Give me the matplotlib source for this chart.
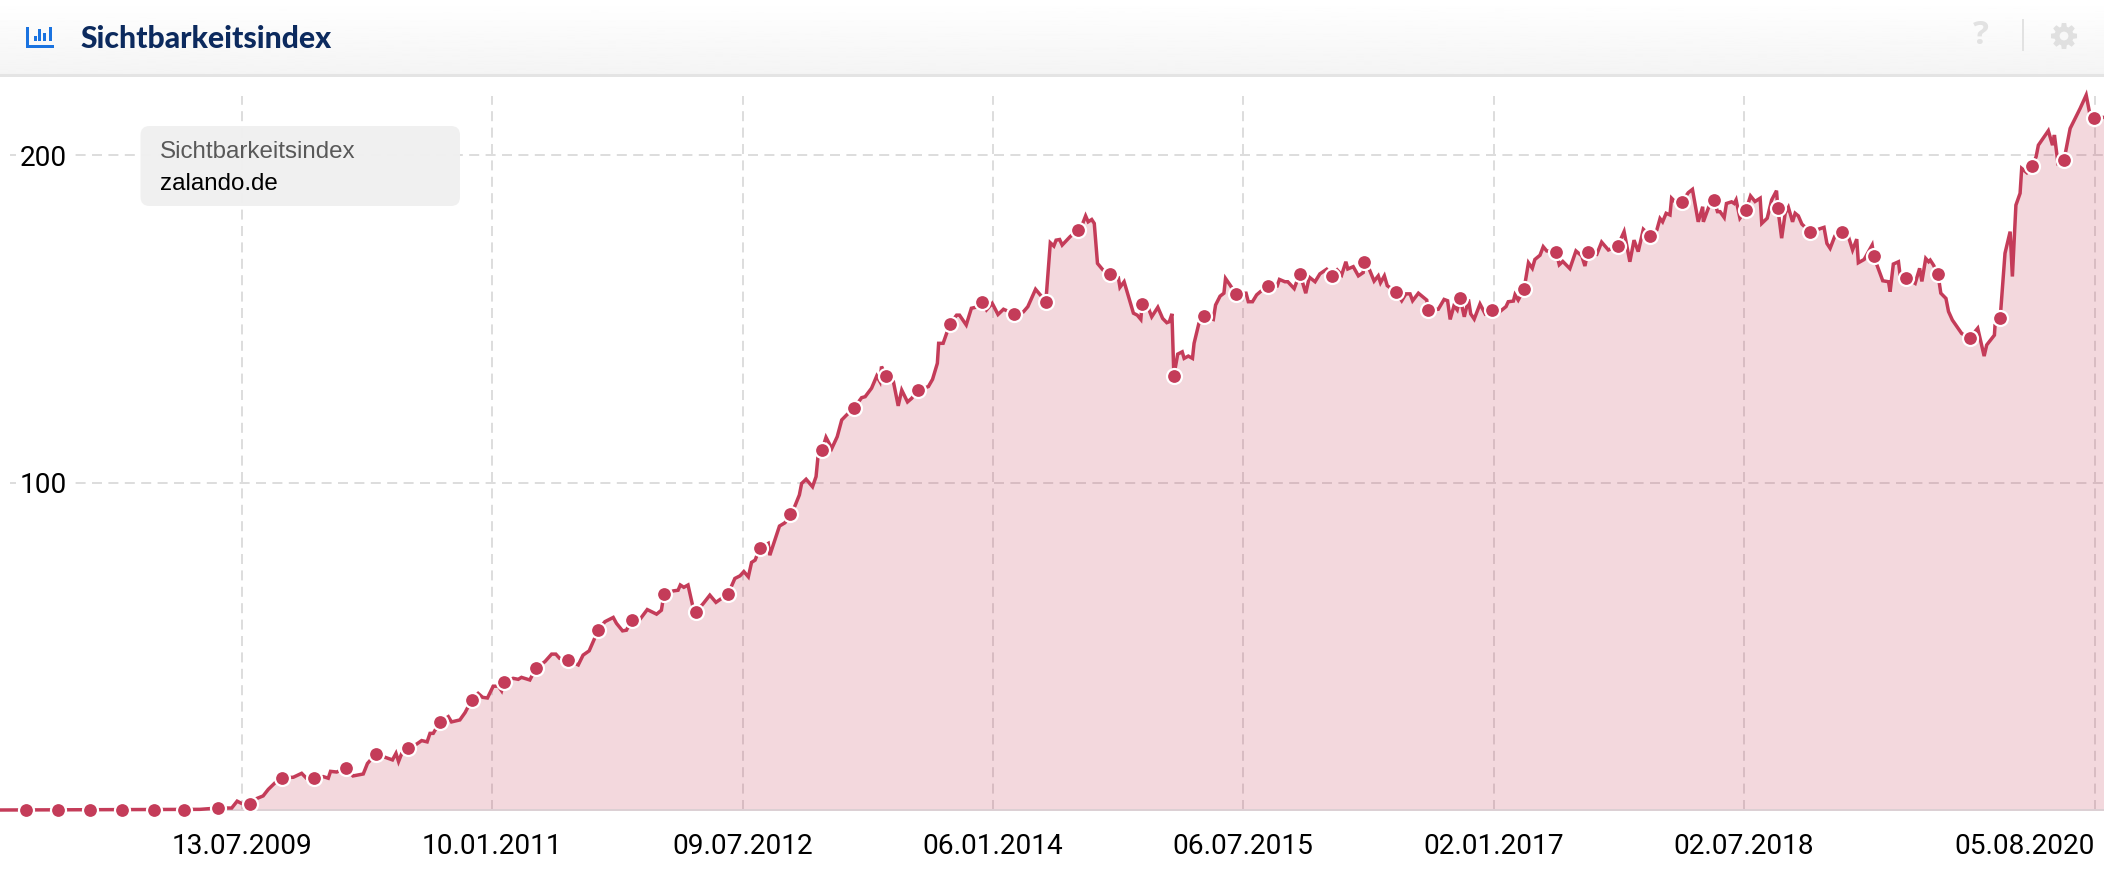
import datetime as dt
import numpy as np
import matplotlib
matplotlib.use("Agg")
import matplotlib.pyplot as plt
import matplotlib.dates as mdates
from matplotlib.patches import Circle, FancyBboxPatch, Polygon, Rectangle

W, H = 2104, 876
START = dt.date(2008, 2, 1)

title = "Sichtbarkeitsindex"
legend_metric = "Sichtbarkeitsindex"
legend_domain = "zalando.de"
y_ticks = [100, 200]
x_tick_dates = ["2009-07-13", "2011-01-10", "2012-07-09", "2014-01-06",
                "2015-07-06", "2017-01-02", "2018-07-02", "2020-08-05"]

# weeks since START, index value
line_weeks = [
    0, 62.3, 67.9, 72.2, 73.9, 75.3, 77.9, 80, 82, 83.6, 85.7, 87.9, 91.4, 94, 95.5, 97.8, 100.7, 102.3, 103,
    104.9, 107.8, 110, 113.2, 114.5, 117.1, 120, 122.3, 123.4, 124.2, 125.2, 127.1, 129.8, 131.4, 133.1, 134,
    135, 137.1, 139.7, 140.7, 143.3, 144.9, 147, 149, 150.4, 151.9, 153.7, 155.3, 156.3, 157, 159.9, 161.5,
    162.5, 165.1, 167, 169.8, 171.9, 173.2, 174.4, 176.9, 180.2, 181.7, 183.6, 186.4, 188.5, 191.1, 192.1,
    194, 195.2, 196.9, 199.4, 201.7, 204.6, 206.1, 206.9, 209.8, 211.3, 212, 213.1, 214.4, 215.8, 216.9,
    219.2, 221.2, 223.1, 226.9, 229, 230.6, 231.8, 233.2, 234.2, 235.3, 236.8, 239.4, 239.9, 242.9, 244.6,
    246.2, 247.7, 249.1, 249.8, 251.2, 253.2, 254.3, 254.9, 256.2, 257.4, 259.2, 260.9, 262.3, 263.8, 266.1,
    268.5, 269.6, 271.6, 273.2, 274.2, 274.7, 276.1, 278.4, 279.9, 281, 282.8, 284.1, 286.1, 289.3, 290.6,
    292.1, 292.5, 293.9, 296, 298.1, 299, 301.1, 302.7, 304, 305.9, 307.4, 309.2, 311, 312.7, 316, 318.9,
    320.3, 322.7, 324.5, 325.9, 327.3, 328.4, 329.1, 330.2, 331, 333.5, 335.9, 337.4, 338.3, 339.1, 340.2,
    341, 342, 343.7, 345.8, 348.5, 349, 350.3, 353.2, 354.4, 355.5, 355.9, 358, 358.9, 360.8, 362.3, 363.6,
    364.4, 365.2, 365.8, 367, 368.4, 369, 370.3, 371.6, 372.1, 373.6, 375.2, 378.1, 378.8, 380.2, 381.4,
    381.9, 383.3, 385.1, 388.3, 389, 390.3, 391.6, 392.8, 395.1, 398, 398.7, 400.4, 401.3, 403.3, 403.9,
    405.1, 406.9, 408, 409.8, 411.3, 413.4, 415.1, 416.7, 418.1, 419.4, 420, 421.7, 423.3, 424.8, 425.1,
    426.7, 428.2, 429.5, 430.2, 431.4, 432.3, 435, 436.8, 438.1, 439.4, 440.2, 442, 444.6, 445, 448.2, 450,
    451.1, 451.9, 453.1, 454.1, 455, 456.3, 457.6, 458.3, 459.4, 461.2, 462.8, 465, 467.4, 469.3, 470, 471.6,
    472.1, 473.1, 474.9, 475.4, 476.3, 477.5, 478.3, 479.9, 480.9, 482, 484.9, 485.9, 487, 489.2, 491.1,
    492.9, 493.9, 494.8, 497.6, 499.1, 501.2, 504.1, 506.1, 507.9, 509.2, 510.5, 512.1, 514.2, 516.3, 517.3,
    518.1, 519.2, 520.4, 520.9, 522.5, 524.1, 526.1, 527.4, 529.2, 530.6, 530.8, 532.7, 534.1, 535.2, 536,
    537.3, 538, 539.6, 540.4, 541, 542.2, 544.1, 545.5, 546.9, 548.5, 549, 550.7, 552.1, 553.6, 554, 555.2,
    556.3, 557.3, 558.6, 559.4, 560.4, 561.5, 564.1, 568.4, 569.3, 570.3, 571.8, 574, 576, 577.3, 578.6,
    579.1, 580.9, 583.4, 583.9, 584.9, 586.7, 588.5, 589, 590, 591.6, 592.1, 594, 596.8, 598.2, 598.9, 600.1,
    601, 601.5, 602.5, 603.9, 604.8, 606.4, 607.2, 608.4, 611.3, 613.8, 616.3, 618.3, 619.1, 621.5, 621.7,
    623.3, 624.8, 626.4, 627.1, 628.2, 629.5, 630, 631.6, 633.3, 634.5, 635.2, 638.3, 639.6, 640.2, 641.3,
    643.2, 645.1, 648.2, 650.1, 651.3, 652.6, 655.7,
]
line_values = [
    0, 0.2, 0.6, 0.6, 2.7, 2.0, 1.8, 3.5, 4.3, 6.3, 8.3, 9.8, 10, 11.2, 9.7, 9.8, 10.2, 9.7, 11.8,
    11.6, 12.7, 10.4, 11, 14.2, 17.1, 16.1, 15.3, 17.3, 14.8, 17.3, 18.9, 20.1, 21.2, 20.8, 23.4,
    23.4, 26.9, 28.5, 26.9, 27.5, 29.7, 33.6, 35.6, 34.4, 34.2, 37.8, 37.8, 36.4, 39, 40.2, 39.9,
    40.5, 39.7, 43.3, 45.3, 47.6, 47.6, 46.3, 45.8, 44.3, 47.3, 48.6, 54.9, 57.5, 58.8, 57,
    54.7, 54.9, 58, 58.2, 61.2, 59.8, 61, 65.9, 66.9, 67.1, 68.7, 68, 68.7, 62.6, 60.5,
    63.1, 65.6, 63.4, 66, 70.7, 71.5, 72.8, 71.2, 75.6, 76.3, 80, 81.4, 77.8, 86.7, 87.7,
    90.5, 92.8, 96.2, 99.7, 101, 98.7, 101.8, 107.9, 110, 113.8, 110.4, 114, 119.1, 120.6, 122.7,
    125.9, 126.2, 128.8, 132.5, 130.8, 135.4, 132.6, 130.8, 123.4, 128.2, 124.6, 125.7, 128.2, 129.3, 131.5,
    136.4, 142.5, 142.5, 148.4, 151.1, 151.1, 148.1, 153.2, 153.5, 155.1, 152.7, 154.7, 151.3, 152.9, 151.5, 152.1,
    153.7, 159, 156.9, 155.1, 173.2, 172.2, 174, 174.2, 172.5, 175.1, 177.1, 179.1, 181.4, 179.6, 180.3,
    179.1, 166.9, 164.9, 163.7, 162.6, 159.6, 161.3, 151.7, 151.1, 149.8, 154.5, 152.9, 150.6, 153.5, 150.1, 148.8,
    149.1, 151.5, 132.6, 139.2, 139.9, 137.9, 138.6, 137.9, 142.5, 148.6, 150.8, 149.8, 154.2, 156.9, 157.8,
    162.3, 160.3, 157.6, 157.8, 155.2, 155.2, 157.3, 158.3, 160, 160, 162, 161.3, 161.3, 159.2, 160.8,
    163.7, 157.8, 162.7, 161.3, 163.7, 165.1, 163.1, 164.9, 163.4, 167.4, 165.2, 165.9, 163.1, 164.1, 167.3,
    165.1, 161.5, 163.1, 161, 163.1, 160.1, 158.2, 155.5, 157.6, 157.6, 155.5, 157.8, 155.7, 152.7, 152.9, 155.9,
    155.5, 149.8, 154, 152.7, 156.3, 150.6, 155.9, 151.5, 149.9, 154.5, 151.5, 152.7, 152.2, 153.7, 155.2, 155.4,
    157.3, 155.7, 159, 161.8, 167.1, 165.4, 168.1, 169.4, 172, 170.7, 170.5, 166.5, 167.5, 165.3, 170.7,
    169.2, 166.1, 170.5, 169.7, 173.4, 171, 172.2, 176.6, 167.4, 174, 170.5, 177.3, 175.3, 177.1, 180.6,
    179.6, 182.2, 181.7, 186.8, 185.2, 185.6, 188.5, 189.5, 179.6, 184.2, 179.6, 184.7, 186.3, 182.7, 182.7,
    180.9, 185.2, 185.7, 185.2, 186.3, 180.7, 183.2, 187.5, 185.8, 186.8, 179.1, 180.7, 186.3, 189.1, 183.8, 174.6,
    182.2, 184, 179.6, 182.2, 181.4, 178.9, 176.5, 177.9, 173, 171.5, 175.3, 176.5, 175.1, 171, 174.3,
    167.1, 168.1, 172.5, 169.2, 166.4, 161.6, 161.3, 158.3, 166.7, 167.4, 163.4, 162.5, 160.8, 165.4, 161.4, 168.4,
    167.4, 167.9, 166.4, 163.7, 157.8, 156.2, 152.2, 149.6, 145.5, 144.1, 147.1, 138.6, 142, 145, 148.1,
    150.2, 170, 176.6, 162.9, 184.7, 188.3, 195.9, 194.6, 196.7, 199.5, 203, 207.4, 203, 206.1, 197.5,
    198.5, 208.1, 214.2, 218.3, 212.2, 211.3, 211.5,
]
dot_weeks = [
    8.1, 18.1, 28, 38, 48, 57.3, 67.9, 77.9, 87.9, 97.8, 107.8, 117.1, 127.1, 137.1, 147, 157, 167, 176.9, 186.4,
    196.9, 206.9, 216.9, 226.9, 236.8, 246.2, 256.2, 266.1, 276.1, 286.1, 296, 305.9, 316, 325.9, 335.9, 345.8,
    355.9, 365.8, 375.2, 385.1, 395.1, 405.1, 415.1, 425.1, 435, 445, 455, 465, 474.9, 484.9, 494.8, 504.1, 514.2,
    524.1, 534.1, 544.1, 554, 564.1, 574, 583.9, 594, 603.9, 613.8, 623.3, 633.3, 643.2, 652.6,
]
dot_values = [
    0, 0, 0, 0, 0, 0, 0.6, 1.8, 9.8, 9.8, 12.7, 17.1, 18.9, 26.9, 33.6, 39, 43.3, 45.8, 54.9,
    58, 65.9, 60.5, 66, 80, 90.5, 110, 122.7, 132.6, 128.2, 148.4, 155.1, 151.5, 155.1, 177.1, 163.7,
    154.5, 132.6, 150.8, 157.6, 160, 163.7, 163.1, 167.3, 158.2, 152.7, 156.3, 152.7, 159, 170.5, 170.5, 172.2, 175.3,
    185.6, 186.3, 183.2, 183.8, 176.5, 176.5, 169.2, 162.5, 163.7, 144.1, 150.2, 196.7, 198.5, 211.3,
]

RED = "#c43c59"
GRID = "#dddddd"


def to_num(weeks):
    return mdates.date2num(START) + np.asarray(weeks, dtype=float) * 7


fig = plt.figure(figsize=(W / 100, H / 100), dpi=100, facecolor="white")

# plot area
bottom, top = 810, 90
ax = fig.add_axes([0, (H - bottom) / H, 1, (bottom - top) / H])
ax.set_xlim(to_num(0), to_num(655.65))
ax.set_ylim(0, (bottom - top) / 3.275)
ax.set_axisbelow(True)
for s in ("left", "right", "top"):
    ax.spines[s].set_visible(False)
ax.spines["bottom"].set_color("#dccfd3")
ax.spines["bottom"].set_linewidth(1.4)

tick_nums = mdates.date2num([dt.date.fromisoformat(d) for d in x_tick_dates])
dash = (0, (5, 3.2))
for t in tick_nums:
    ax.plot([t, t], [0, 218], color=GRID, lw=1.44, ls=dash, zorder=0.4)
for v in y_ticks:
    ax.axhline(v, xmin=10 / W, color=GRID, lw=1.44, ls=dash, zorder=0.4)

ax.fill_between(to_num(line_weeks), line_values, 0, color=RED, alpha=0.2, lw=0, zorder=1)
ax.plot(to_num(line_weeks), line_values, color=RED, lw=2.5, solid_joinstyle="miter", zorder=3, clip_on=False)
ax.plot(to_num(dot_weeks), dot_values, ls="none", marker="o", ms=10.8, mfc=RED, mec="white", mew=1.6,
        zorder=4, clip_on=False)

ax.set_xticks(tick_nums)
ax.xaxis.set_major_formatter(mdates.DateFormatter("%d.%m.%Y"))
ax.tick_params(axis="x", length=0, pad=16.8, labelsize=20.2, labelfontfamily="Roboto", labelcolor="black")
ax.xaxis.get_ticklabels()[-1].set_ha("right")
ax.set_yticks(y_ticks)
ax.tick_params(axis="y", length=0, pad=-14.4, labelsize=20.2, labelfontfamily="Roboto", labelcolor="black")
for lab in ax.yaxis.get_ticklabels():
    lab.set_ha("left")
    lab.set_bbox(dict(facecolor="white", edgecolor="none", pad=3))


def fx(px):
    return px / W


def fy(py):
    return 1 - py / H


# legend box
box = FancyBboxPatch((140.5, H - 206), 319.5, 80, boxstyle="round,pad=0,rounding_size=9",
                     transform=None, fc="#f0f0f0", ec="none", alpha=0.97, zorder=5)
fig.add_artist(box)
fig.text(fx(160), fy(151.5), legend_metric, family="Liberation Sans", fontsize=17.4, color="#595959",
         va="center", ha="left", zorder=6)
fig.text(fx(160), fy(184), legend_domain, family="Liberation Sans", fontsize=17.4, color="black",
         va="center", ha="left", zorder=6)

# header
hax = fig.add_axes([0, fy(74), 1, 74 / H], zorder=7)
grad = np.linspace(1, 0.957, 64).reshape(-1, 1)
hax.imshow(grad, aspect="auto", cmap="gray", vmin=0, vmax=1, extent=(0, W, 74, 0))
hax.set_xlim(0, W)
hax.set_ylim(74, 0)
hax.axis("off")
fig.add_artist(Rectangle((0, fy(76.5)), 1, 2.5 / H, transform=fig.transFigure, fc="#e4e4e4", ec="none", zorder=8))

# header icon, drawn in header pixels
BLUE = "#1a73e0"
hax.add_patch(Rectangle((26, 27), 3, 21, fc=BLUE, ec="none"))
hax.add_patch(Rectangle((26, 45), 28, 3, fc=BLUE, ec="none"))
for bx, bh in [(33.5, 5), (38, 12), (43, 8), (49, 14)]:
    hax.add_patch(Rectangle((bx, 41 - bh), 3, bh, fc=BLUE, ec="none"))

hax.text(80.5, 39, title, family="Lato", weight="black", fontsize=21.7, color="#0c2a5e", va="center", ha="left")
hax.text(1981, 35.5, "?", family="Open Sans", weight="bold", fontsize=24, color="#e2e2e2", va="center", ha="center")
hax.plot([2023, 2023], [20, 50], color="#e2e2e2", lw=1.4)

# gear icon
gear_cx, gear_cy = 2064, 36
teeth = 8
gear_pts = []
for i in range(teeth):
    a = 2 * np.pi * i / teeth
    for da, r in [(-0.30, 9.6), (-0.17, 13.2), (0.17, 13.2), (0.30, 9.6)]:
        gear_pts.append((gear_cx + r * np.cos(a + da), gear_cy + r * np.sin(a + da)))
hax.add_patch(Polygon(gear_pts, closed=True, fc="#e0e0e0", ec="none"))
hax.add_patch(Circle((gear_cx, gear_cy), 4.4, fc="#f8f8f8", ec="none"))

fig.savefig("out.png", dpi=100)
